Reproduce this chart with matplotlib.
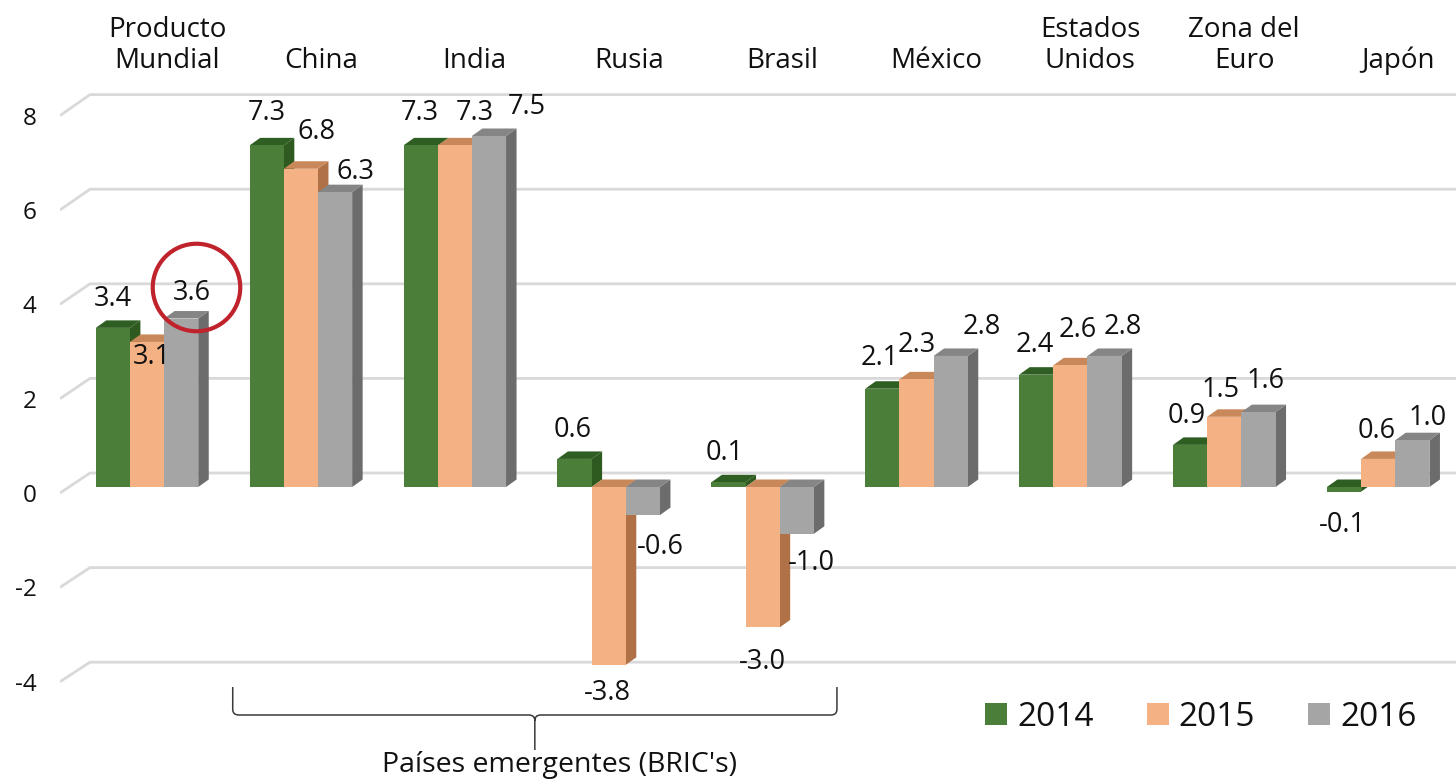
import matplotlib
matplotlib.use("Agg")
import matplotlib.pyplot as plt
import matplotlib.transforms as mtransforms
from matplotlib.patches import Polygon, Patch, PathPatch
from matplotlib.path import Path

# ---------------- data ----------------
categories = ["Producto\nMundial", "China", "India", "Rusia", "Brasil",
              "México", "Estados\nUnidos", "Zona del\nEuro", "Japón"]
years = ["2014", "2015", "2016"]
v2014 = [3.4, 7.3, 7.3, 0.6, 0.1, 2.1, 2.4, 0.9, -0.1]
v2015 = [3.1, 6.8, 7.3, -3.8, -3.0, 2.3, 2.6, 1.5, 0.6]
v2016 = [3.6, 6.3, 7.5, -0.6, -1.0, 2.8, 2.8, 1.6, 1.0]
yticks = [-4, -2, 0, 2, 4, 6, 8]
group_label = "Países emergentes (BRIC's)"

# ---------------- style / layout ----------------
plt.rcParams["font.family"] = ["Open Sans", "DejaVu Sans"]
W, H = 1456, 780
PX_X, PX_Y = 153.9, 46.8          # pixels per category / per unit
X0_PX, Y0_PX = 147, 487           # pixel of category 0 centre / value 0
AX_LEFT_PX, AX_TOP_PX = 60, 85

front_cols = ["#4B7E38", "#F4B183", "#A5A5A5"]
side_cols = ["#2E5A1F", "#B07146", "#6C6C6C"]
top_cols = ["#2F5E22", "#C8885A", "#858585"]
grid_col = "#D9D9D9"
txt_col = "#111111"

bar_w = 0.222
offsets = [-bar_w, 0.0, bar_w]
dx = 10.5 / PX_X
dy = 7.5 / PX_Y

# label offsets in pixels (dx, dy) per series / category
lab_off = [
    [(0, 29), (0, 32), (-1, 32), (-2, 29), (-4, 29), (-3, 31), (-1, 30), (-3, 29), (-2, -33)],
    [(5, -15), (16, 37), (20, 32), (-1, -28), (0, -35), (0, 34), (7, 35), (-4, 27), (-2, 28)],
    [(11, 26), (20, 20), (38, 29), (17, -32), (15, -29), (31, 29), (18, 29), (7, 31), (15, 22)],
]

fig = plt.figure(figsize=(W / 100, H / 100), dpi=100)
ax = fig.add_axes([AX_LEFT_PX / W, 0, (W - AX_LEFT_PX) / W, 1 - AX_TOP_PX / H])
ax.set_xlim((AX_LEFT_PX - X0_PX) / PX_X, (W - X0_PX) / PX_X)
ax.set_ylim((Y0_PX - H) / PX_Y, (Y0_PX - AX_TOP_PX) / PX_Y)
for s in ax.spines.values():
    s.set_visible(False)

# back-wall gridlines with left-wall diagonals
x_back = (90 - X0_PX) / PX_X
x_front = ax.get_xlim()[0]
for t in yticks:
    yb = t + (14 + 0.5 * t) / PX_Y
    yf = t - (6 - 0.375 * t) / PX_Y
    ax.plot([x_front, x_back, ax.get_xlim()[1]], [yf, yb, yb],
            color=grid_col, lw=2.0, zorder=0.5, solid_capstyle="butt")

ax.set_yticks([t - (6 - 0.375 * t) / PX_Y for t in yticks])
ax.set_yticklabels([str(t) for t in yticks])
ax.tick_params(axis="y", length=0, pad=17, labelsize=17.5, labelcolor=txt_col)

xs = list(range(len(categories)))
ax.set_xticks([x + 0.13 for x in xs])
ax.set_xticklabels(categories)
ax.xaxis.set_ticks_position("top")
ax.tick_params(axis="x", length=0, pad=7, labelsize=20, labelcolor=txt_col,
               top=True, labeltop=True, bottom=False, labelbottom=False)
for lab in ax.get_xticklabels():
    lab.set_linespacing(1.15)

series = [v2014, v2015, v2016]
for si, vals in enumerate(series):
    z = 2 + si
    bx = [x + offsets[si] for x in xs]
    for xc, v in zip(bx, vals):
        xl, xr = xc - bar_w / 2, xc + bar_w / 2
        ax.add_patch(Polygon([(xr, 0), (xr, v), (xr + dx, v + dy), (xr + dx, dy)],
                             closed=True, fc=side_cols[si], ec="none", zorder=z))
        tp = max(v, 0)
        ax.add_patch(Polygon([(xl, tp), (xr, tp), (xr + dx, tp + dy), (xl + dx, tp + dy)],
                             closed=True, fc=top_cols[si], ec="none", zorder=z))
    ax.bar(bx, vals, width=bar_w, color=front_cols[si], zorder=z + 0.1, lw=0)
    for ci, (xc, v) in enumerate(zip(bx, vals)):
        ox, oy = lab_off[si][ci]
        ax.annotate(f"{v:.1f}", (xc, v), xytext=(ox * 0.72, oy * 0.72),
                    textcoords="offset points", ha="center", va="center",
                    fontsize=19.5, color=txt_col, zorder=10)

# red highlight circle around the 2016 world output label
circ_tr = mtransforms.offset_copy(ax.transData, fig=fig, x=15 * 0.72, y=32 * 0.72, units="points")
ax.plot([xs[0] + offsets[2]], [v2016[0]], marker="o", markersize=63, mfc="none",
        mec="#C0232B", mew=3.0, transform=circ_tr, zorder=11, clip_on=False)

# brace under BRIC's
xl_b = 1 - 1.5 * bar_w - 0.11
xr_b = 4 + 1.5 * bar_w + 0.15
xm_b = (xl_b + xr_b) / 2
yh = (Y0_PX - 715) / PX_Y
ytop = (Y0_PX - 687) / PX_Y
ytip = (Y0_PX - 750) / PX_Y
ry = 0.12
rx = 0.04
verts = [(xl_b, ytop), (xl_b, yh + ry), (xl_b, yh), (xl_b + rx, yh),
         (xm_b - rx, yh), (xm_b, yh), (xm_b, yh - ry), (xm_b, ytip),
         (xm_b, yh - ry), (xm_b, yh), (xm_b + rx, yh),
         (xr_b - rx, yh), (xr_b, yh), (xr_b, yh + ry), (xr_b, ytop)]
codes = [Path.MOVETO, Path.LINETO, Path.CURVE3, Path.CURVE3,
         Path.LINETO, Path.CURVE3, Path.CURVE3, Path.LINETO,
         Path.MOVETO, Path.CURVE3, Path.CURVE3,
         Path.LINETO, Path.CURVE3, Path.CURVE3, Path.LINETO]
ax.add_patch(PathPatch(Path(verts, codes), fc="none", ec="#3A3A3A", lw=1.1, zorder=5))
ax.text((560 - X0_PX) / PX_X, (Y0_PX - 765) / PX_Y, group_label, ha="center", va="center",
        fontsize=20.5, color=txt_col)

handles = [Patch(facecolor=c, edgecolor="none") for c in front_cols]
fig.legend(handles, years, loc="center", bbox_to_anchor=(1201 / W, 1 - 717 / H),
           ncol=3, frameon=False, fontsize=24, handlelength=0.65, handleheight=0.65,
           handletextpad=0.3, columnspacing=1.6, labelcolor=txt_col)

fig.savefig("out.png", dpi=100)
